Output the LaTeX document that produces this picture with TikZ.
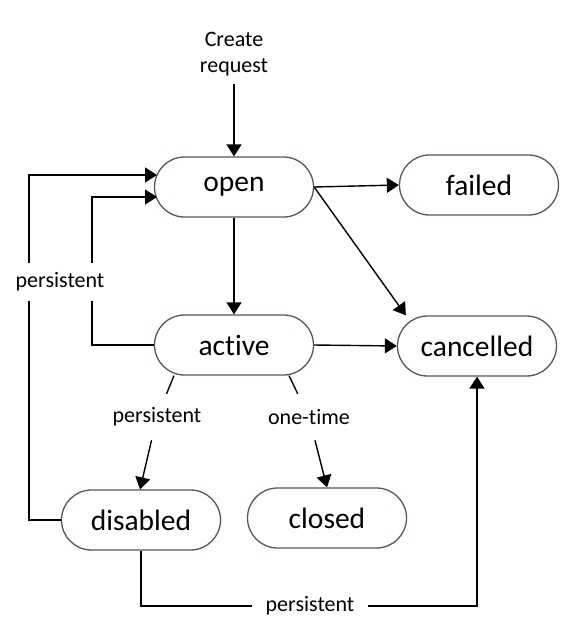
\documentclass[tikz,border=0pt]{standalone}
\usepackage{fontspec}
\setmainfont[Ligatures=NoCommon]{Carlito}
\usetikzlibrary{arrows.meta}
\definecolor{boxline}{HTML}{4F5868}
\begin{document}
\begin{tikzpicture}[x=1pt,y=-1pt,
  state/.style={draw=boxline,line width=1.3pt,rounded corners=30pt,minimum width=159pt,minimum height=60pt,inner sep=0pt,font=\fontsize{29.5}{32}\selectfont},
  lbl/.style={font=\fontsize{22}{26}\selectfont,inner sep=0pt},
  conn/.style={line width=1.4pt,-{Triangle[length=12pt,width=15pt]}},
  plain/.style={line width=1.4pt}]
\useasboundingbox (0,0) rectangle (571,630);
% states
\node[state] (open) at (234,187) {open};
\node[state] (failed) at (479,185) {failed};
\node[state] (active) at (234,345) {active};
\node[state] (cancelled) at (477,346) {cancelled};
\node[state] (disabled) at (141,520) {disabled};
\node[state] (closed) at (327,518) {closed};
\node[lbl,align=center] (req) at (234,54) {Create\\request};
% coordinates
\coordinate (oA) at (157,175);
\coordinate (oB) at (157,197);
\coordinate (bc) at (477,606);
% connectors
\draw[conn] ([yshift=-8pt]req.south) -- (open.north);
\draw[conn] (open.east) -- (failed.west);
\draw[conn] (open.east) -- ([xshift=9pt]cancelled.north west);
\draw[conn] (active.east) -- (cancelled.west);
\draw[conn] (open.south) -- (active.north);
\draw[conn] (disabled.west) -- ++(-32,0) |- (oA);
\draw[conn] (active.west) -- ++(-62,0) |- (oB);
\draw[conn] (disabled.south) |- (bc) -- (cancelled.south);
% labels on lines
\node[lbl,fill=white,inner ysep=10pt,inner xsep=2pt] (pl1) at (60,282) {persistent};
\node[lbl,fill=white,inner xsep=14pt,inner ysep=4pt] (pl3) at (310,606) {persistent};
\node[lbl,minimum height=46pt] (pl2) at (157,417) {persistent};
\node[lbl,minimum height=46pt] (ot) at (309,417) {one-time};
\draw[plain] ([xshift=-60pt]active.south) -- (pl2);
\draw[conn] (pl2) -- ([xshift=-1pt]disabled.north);
\draw[plain] ([xshift=55pt]active.south) -- (ot);
\draw[conn] (ot) -- (closed.north);
\end{tikzpicture}
\end{document}
